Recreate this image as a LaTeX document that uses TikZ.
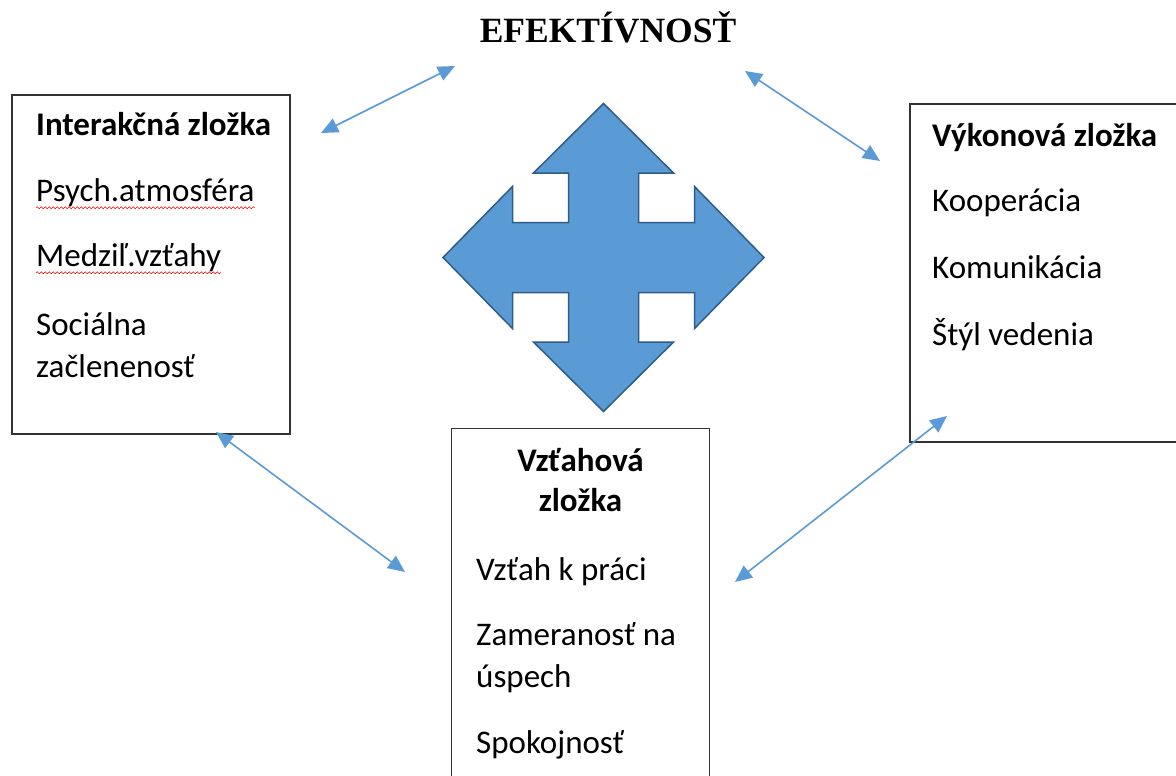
\documentclass[tikz,border=0pt]{standalone}
\usepackage{fontspec}
\setmainfont{Carlito}
\newfontfamily\titlefont{Liberation Serif}
\usetikzlibrary{arrows.meta,decorations.pathmorphing}
\definecolor{crossfill}{HTML}{5B9BD5}
\definecolor{crossline}{HTML}{2F5D87}
\definecolor{conn}{HTML}{5B9BD5}
\tikzset{
  box/.style={draw=black!80, line width=1.3pt, fill=none, rectangle, inner sep=0pt},
  txt/.style={inner sep=0pt, anchor=base west, font=\fontsize{33}{40}\selectfont},
  head/.style={txt, font=\fontsize{33}{40}\selectfont\bfseries},
  conn/.style={draw=conn, line width=1.6pt, {Triangle[length=17pt,width=15pt]}-{Triangle[length=17pt,width=15pt]}},
  spell/.style={draw=red, line width=0.6pt, decorate, decoration={snake, amplitude=1pt, segment length=4pt}}
}
\begin{document}
\begin{tikzpicture}[x=1pt,y=-1pt]
\useasboundingbox (0,0) rectangle (1176,776);
\clip (0,0) rectangle (1176,776);
\fill[white] (0,0) rectangle (1176,776);
% title
\node[inner sep=0pt, anchor=base, font=\titlefont\fontsize{35.5}{40}\selectfont\bfseries] (title) at (608,43) {EFEKTÍVNOSŤ};
% boxes
\node[box, minimum width=278pt, minimum height=339pt] (L) at (151,264.5) {};
\node[box, minimum width=290pt, minimum height=338pt] (R) at (1055,273) {};
\node[box, minimum width=257.6pt, minimum height=380pt] (B) at (580.5,618.3) {};
% left box text
\node[head] (l0) at (36,135.7) {Interakčná zložka};
\node[txt] (l1) at (36,201.7) {Psych.atmosféra};
\node[txt] (l2) at (36,266.7) {Medziľ.vzťahy};
\node[txt] (l3) at (36,335) {Sociálna};
\node[txt] (l4) at (36,377) {začlenenosť};
\draw[spell] ([yshift=-6pt]l1.base west) -- ([yshift=-6pt]l1.base east);
\draw[spell] ([yshift=-6pt]l2.base west) -- ([yshift=-6pt]l2.base east);
% right box text
\node[head] (r0) at (932,146.7) {Výkonová zložka};
\node[txt] (r1) at (932,211.7) {Kooperácia};
\node[txt] (r2) at (932,278) {Komunikácia};
\node[txt] (r3) at (932,345) {Štýl vedenia};
% bottom box text
\node[head, anchor=base] (b0) at (580.5,471.7) {Vzťahová};
\node[head, anchor=base] (b1) at (580.5,511.7) {zložka};
\node[txt] (b2) at (476,580) {Vzťah k práci};
\node[txt] (b3) at (476,645) {Zameranosť na};
\node[txt] (b4) at (476,687) {úspech};
\node[txt] (b5) at (476,753) {Spokojnosť};
% cross arrow
\begin{scope}[shift={(603.5,257.5)}]
\draw[fill=crossfill, draw=crossline, line width=1.5pt, line join=miter]
 (0,-154) -- (70,-84.5) -- (35,-84.5) -- (35,-35) -- (91,-35) -- (91,-71) -- (160.5,0)
 -- (91,71) -- (91,35) -- (35,35) -- (35,84.5) -- (70,84.5) -- (0,154)
 -- (-70,84.5) -- (-35,84.5) -- (-35,35) -- (-91,35) -- (-91,71) -- (-160.5,0)
 -- (-91,-71) -- (-91,-35) -- (-35,-35) -- (-35,-84.5) -- (-70,-84.5) -- cycle;
\end{scope}
% connector end points
\coordinate (c1a) at (321,133);
\coordinate (c1b) at (455,66);
\coordinate (c2a) at (745,71);
\coordinate (c2b) at (880,161);
\coordinate (c3a) at (216,432);
\coordinate (c3b) at (405,572);
\coordinate (c4a) at (947,416);
\coordinate (c4b) at (735,582);
\draw[conn] (c1a) -- (c1b);
\draw[conn] (c2a) -- (c2b);
\draw[conn] (c3a) -- (c3b);
\draw[conn] (c4a) -- (c4b);
\end{tikzpicture}
\end{document}
